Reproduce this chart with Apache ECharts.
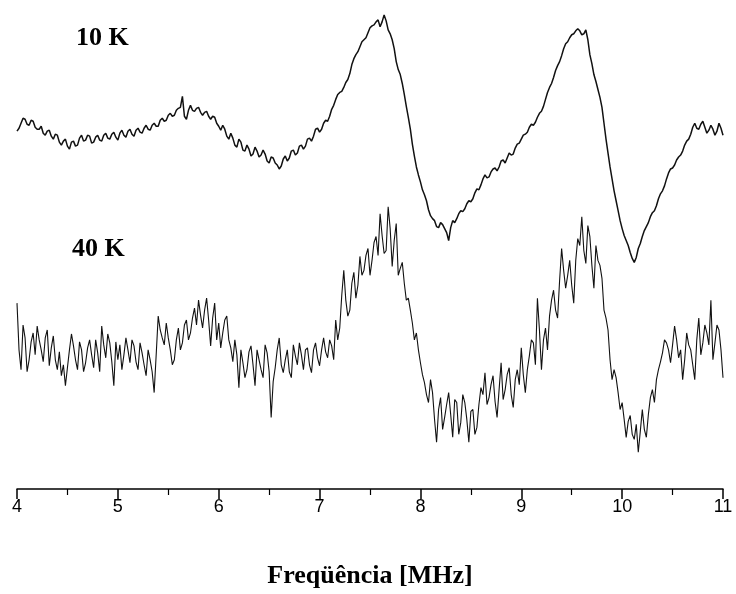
<!DOCTYPE html>
<html>
<head>
<meta charset="utf-8">
<script src="https://cdn.jsdelivr.net/npm/echarts@6/dist/echarts.min.js"></script>
<style>html,body{margin:0;padding:0;background:#fff;}#c{width:736px;height:594px;}</style>
</head>
<body>
<div id="c"></div>
<script>
// Frequency samples (MHz)
const freq = [
4.00,4.02,4.04,4.06,4.08,4.10,4.12,4.14,4.16,4.18,4.20,4.22,4.24,4.26,4.28,4.30,4.32,4.34,4.36,4.38,4.40,4.42,4.44,4.46,4.48,4.50,4.52,4.54,4.56,4.58,4.60,4.62,4.64,4.66,4.68,4.70,4.72,4.74,4.76,4.78,4.80,4.82,4.84,4.86,4.88,4.90,4.92,4.94,4.96,4.98,
5.00,5.02,5.04,5.06,5.08,5.10,5.12,5.14,5.16,5.18,5.20,5.22,5.24,5.26,5.28,5.30,5.32,5.34,5.36,5.38,5.40,5.42,5.44,5.46,5.48,5.50,5.52,5.54,5.56,5.58,5.60,5.62,5.64,5.66,5.68,5.70,5.72,5.74,5.76,5.78,5.80,5.82,5.84,5.86,5.88,5.90,5.92,5.94,5.96,5.98,
6.00,6.02,6.04,6.06,6.08,6.10,6.12,6.14,6.16,6.18,6.20,6.22,6.24,6.26,6.28,6.30,6.32,6.34,6.36,6.38,6.40,6.42,6.44,6.46,6.48,6.50,6.52,6.54,6.56,6.58,6.60,6.62,6.64,6.66,6.68,6.70,6.72,6.74,6.76,6.78,6.80,6.82,6.84,6.86,6.88,6.90,6.92,6.94,6.96,6.98,
7.00,7.02,7.04,7.06,7.08,7.10,7.12,7.14,7.16,7.18,7.20,7.22,7.24,7.26,7.28,7.30,7.32,7.34,7.36,7.38,7.40,7.42,7.44,7.46,7.48,7.50,7.52,7.54,7.56,7.58,7.60,7.62,7.64,7.66,7.68,7.70,7.72,7.74,7.76,7.78,7.80,7.82,7.84,7.86,7.88,7.90,7.92,7.94,7.96,7.98,
8.00,8.02,8.04,8.06,8.08,8.10,8.12,8.14,8.16,8.18,8.20,8.22,8.24,8.26,8.28,8.30,8.32,8.34,8.36,8.38,8.40,8.42,8.44,8.46,8.48,8.50,8.52,8.54,8.56,8.58,8.60,8.62,8.64,8.66,8.68,8.70,8.72,8.74,8.76,8.78,8.80,8.82,8.84,8.86,8.88,8.90,8.92,8.94,8.96,8.98,
9.00,9.02,9.04,9.06,9.08,9.10,9.12,9.14,9.16,9.18,9.20,9.22,9.24,9.26,9.28,9.30,9.32,9.34,9.36,9.38,9.40,9.42,9.44,9.46,9.48,9.50,9.52,9.54,9.56,9.58,9.60,9.62,9.64,9.66,9.68,9.70,9.72,9.74,9.76,9.78,9.80,9.82,9.84,9.86,9.88,9.90,9.92,9.94,9.96,9.98,
10.00,10.02,10.04,10.06,10.08,10.10,10.12,10.14,10.16,10.18,10.20,10.22,10.24,10.26,10.28,10.30,10.32,10.34,10.36,10.38,10.40,10.42,10.44,10.46,10.48,10.50,10.52,10.54,10.56,10.58,10.60,10.62,10.64,10.66,10.68,10.70,10.72,10.74,10.76,10.78,10.80,10.82,10.84,10.86,10.88,10.90,10.92,10.94,10.96,10.98,
11.00
];
// Signal at 10 K (arbitrary units)
const amp10K = [
360,363,368,373,372,367,366,371,370,364,362,362,365,358,356,360,361,355,352,357,356,349,346,350,352,345,342,349,350,345,346,353,356,350,351,356,355,348,349,354,356,351,350,356,358,353,352,357,359,354,
351,358,361,356,354,360,362,357,355,361,363,359,358,363,366,362,361,366,368,365,365,371,373,370,371,376,378,375,376,381,383,384,395,375,372,381,386,381,380,383,384,379,376,379,380,375,372,375,374,368,
365,361,366,362,355,352,358,353,346,344,352,349,341,340,346,342,335,337,344,340,334,336,341,337,330,328,334,333,328,326,322,325,332,335,330,333,340,341,336,338,345,346,342,345,352,353,350,355,362,363,
359,362,368,371,370,375,382,386,392,397,399,400,404,409,412,418,427,433,437,440,445,450,452,454,459,464,466,467,470,472,465,470,477,471,462,458,452,443,430,422,417,408,397,385,374,362,347,335,324,316,
309,301,296,290,281,275,272,270,264,263,268,266,262,258,250,263,270,268,272,277,280,279,282,287,290,289,292,298,302,301,306,312,316,313,314,319,322,323,320,324,330,331,328,333,338,336,337,343,347,348,
352,356,357,359,364,367,366,369,374,378,380,385,392,399,404,408,414,421,426,430,436,443,448,450,454,457,458,461,463,461,457,458,462,452,437,428,417,410,402,394,384,368,352,338,324,312,300,290,280,270,
262,255,250,245,238,232,228,233,242,247,254,260,264,268,274,278,280,285,292,297,300,305,312,318,322,323,326,331,334,336,340,346,350,352,357,364,368,363,362,367,370,364,358,361,366,362,356,360,368,363,
356
];
// Signal at 40 K (arbitrary units)
const amp40K = [
187,140,120,165,152,118,130,148,157,135,164,150,140,128,152,160,124,142,154,130,120,138,114,125,104,122,140,156,144,130,120,148,140,118,127,142,150,135,122,150,137,118,164,145,132,156,147,128,104,148,
130,145,120,135,152,140,127,150,144,128,120,147,137,125,114,140,130,118,97,135,174,160,152,145,167,152,140,125,130,150,162,140,147,165,170,150,157,172,182,165,190,175,162,180,192,170,144,172,187,150,
167,142,157,170,174,150,142,128,150,135,102,140,127,112,120,138,144,125,104,140,130,120,112,145,137,118,72,108,122,140,152,125,117,130,140,118,112,145,134,125,147,135,120,140,142,125,117,140,147,132,
124,140,152,138,132,150,144,130,170,150,162,195,220,190,174,180,207,218,192,205,234,215,220,235,242,215,230,248,254,235,277,255,237,240,284,262,224,250,267,215,222,228,207,190,192,180,167,150,157,140,
127,115,107,95,87,110,97,70,47,80,92,60,72,85,97,75,52,90,87,55,67,95,87,70,47,78,80,55,62,85,102,95,117,85,92,105,114,88,72,100,127,90,100,115,122,95,82,110,120,105,
142,115,97,120,134,150,147,125,192,160,120,150,162,140,174,190,200,180,172,210,242,220,202,215,230,205,187,230,252,245,274,240,227,265,254,225,202,245,230,225,212,180,172,160,130,110,120,112,97,80,
87,70,52,68,74,55,50,65,37,58,80,60,52,75,92,100,87,110,120,128,137,150,147,140,127,145,164,150,132,140,110,130,157,145,140,125,110,150,172,135,147,165,157,145,190,130,147,165,160,140,
112
];
const seriesLabels = ['10 K', '40 K'];
const xTicks = [4, 5, 6, 7, 8, 9, 10, 11];
const xTitle = 'Freqüência [MHz]';

const pairs = (ys) => freq.map((f, i) => [f, ys[i]]);

const chart = echarts.init(document.getElementById('c'), null, {renderer: 'canvas'});
chart.setOption({
  animation: false,
  backgroundColor: '#ffffff',
  grid: {left: 17, right: 13, top: 0, height: 492, containLabel: false},
  xAxis: {
    type: 'value', min: xTicks[0], max: xTicks[xTicks.length - 1], interval: 1,
    axisLine: {show: true, lineStyle: {color: '#000', width: 1.5}},
    axisTick: {show: true, inside: false, length: 10, lineStyle: {color: '#000', width: 1.5}},
    minorTick: {show: true, splitNumber: 2, length: 6, lineStyle: {color: '#000', width: 1.2}},
    splitLine: {show: false},
    axisLabel: {color: '#000', fontFamily: 'Liberation Sans', fontSize: 18, margin: 9},
    name: xTitle, nameLocation: 'middle', nameGap: 74,
    nameTextStyle: {color: '#000', fontFamily: 'Liberation Serif', fontWeight: 'bold', fontSize: 26}
  },
  yAxis: {type: 'value', min: 0, max: 492, show: false},
  series: [
    {name: seriesLabels[0], type: 'line', data: pairs(amp10K), showSymbol: false, symbol: 'none',
     lineStyle: {color: '#111', width: 1.5}},
    {name: seriesLabels[1], type: 'line', data: pairs(amp40K), showSymbol: false, symbol: 'none',
     lineStyle: {color: '#111', width: 1.1}}
  ],
  graphic: [
    {type: 'text', left: 76, top: 25, style: {text: seriesLabels[0], fill: '#000',
      font: 'bold 26px "Liberation Serif"'}},
    {type: 'text', left: 72, top: 236, style: {text: seriesLabels[1], fill: '#000',
      font: 'bold 26px "Liberation Serif"'}}
  ]
});
</script>
</body>
</html>
